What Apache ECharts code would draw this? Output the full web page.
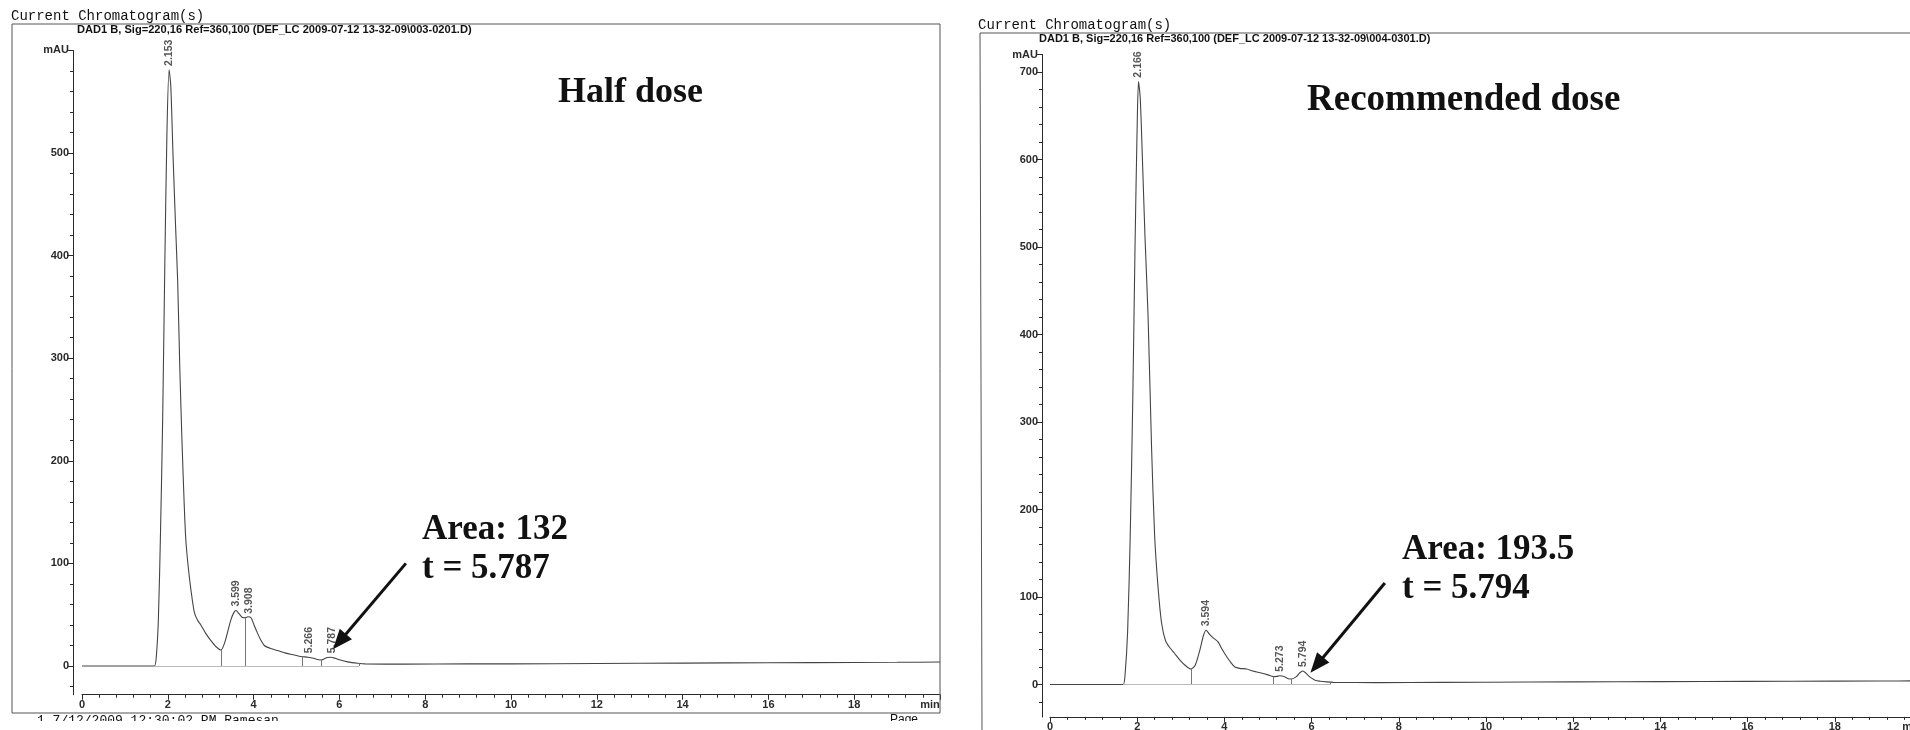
<!DOCTYPE html>
<html><head><meta charset="utf-8">
<script src="https://cdn.jsdelivr.net/npm/echarts@6/dist/echarts.min.js"></script>
<style>html,body{margin:0;padding:0;background:#fff}#c{width:1910px;height:730px}</style>
</head><body><div id="c"></div>
<script>
// ---------- DATA ----------
// Half dose trace (min, mAU)
const leftTime   = [0, 1.6, 1.69, 1.73, 1.78, 1.83, 1.88, 1.93, 1.98, 2.03, 2.07, 2.12, 2.18, 2.23, 2.28, 2.33, 2.38, 2.42, 2.48, 2.54, 2.62, 2.70, 2.77, 2.88, 3.00, 3.12, 3.24, 3.32, 3.40, 3.47, 3.54, 3.59, 3.66, 3.73, 3.80, 3.87, 3.94, 4.01, 4.09, 4.17, 4.25, 4.40, 4.56, 4.75, 4.95, 5.10, 5.27, 5.40, 5.50, 5.57, 5.65, 5.72, 5.80, 5.90, 6.00, 6.19, 6.43, 6.60, 7.5, 9, 11, 13, 15, 17, 19, 20];
const leftSignal = [0, 0, 0, 8, 45, 130, 240, 390, 520, 581, 565, 500, 430, 375, 290, 220, 160, 123, 95, 74, 52, 44, 40, 32, 25, 19, 15.6, 22, 34, 45, 52, 54, 51, 47.5, 47, 48, 47, 40, 32, 25, 20, 17, 15, 12.5, 10.7, 9.3, 8.5, 7.5, 6.3, 5.8, 7, 8.2, 8.5, 7.5, 6, 4, 2.6, 2, 1.8, 2, 2.2, 2.6, 3, 3.3, 3.6, 3.8];
// Recommended dose trace
const rightTime   = [0, 1.6, 1.68, 1.72, 1.78, 1.84, 1.90, 1.95, 2.00, 2.03, 2.07, 2.12, 2.18, 2.25, 2.33, 2.40, 2.48, 2.56, 2.65, 2.75, 2.85, 2.98, 3.10, 3.23, 3.33, 3.43, 3.52, 3.58, 3.65, 3.75, 3.85, 3.95, 4.05, 4.15, 4.24, 4.35, 4.51, 4.65, 4.82, 5.00, 5.12, 5.20, 5.27, 5.35, 5.45, 5.54, 5.65, 5.73, 5.80, 5.87, 5.95, 6.08, 6.20, 6.35, 6.50, 7.5, 9, 11, 13, 15, 17, 19, 20];
const rightSignal = [0, 0, 0, 10, 60, 170, 330, 500, 640, 689, 670, 600, 510, 420, 270, 170, 110, 70, 50, 42, 36, 28, 22, 17.7, 22, 38, 56, 62, 58, 53, 49, 40, 32, 25, 20, 18.5, 17.7, 15.5, 13.5, 11, 9, 9.3, 10, 9.5, 7, 6.3, 9, 13.5, 15.5, 13, 9, 5, 3.8, 3, 2.5, 2.2, 2.5, 2.8, 3.2, 3.5, 3.8, 4, 4.2];

// Peak apex positions and printed retention times
const leftPeakTime   = [2.03, 3.59, 3.90, 5.29, 5.82];
const leftPeakHeight = [581, 54, 47, 8.5, 8.5];
const leftPeakLabel  = ['2.153', '3.599', '3.908', '5.266', '5.787'];
const rightPeakTime   = [2.03, 3.58, 5.27, 5.80];
const rightPeakHeight = [689, 62, 10, 15.5];
const rightPeakLabel  = ['2.166', '3.594', '5.273', '5.794'];

// Integration drop lines [time, height]
const leftDrops  = [[3.24, 15.6], [3.80, 47], [5.13, 9.3], [5.57, 5.8], [6.46, 2.6]];
const rightDrops = [[3.23, 17.7], [5.12, 9], [5.54, 6.3], [6.42, 2.8]];
const leftBaseline  = [1.69, 6.46];
const rightBaseline = [1.68, 6.42];

// Axis ticks
const leftYTicks  = [0, 100, 200, 300, 400, 500, 600];
const rightYTicks = [0, 100, 200, 300, 400, 500, 600, 700, 720];

// Annotation texts
const leftTitle = 'Half dose';
const rightTitle = 'Recommended dose';
const leftArea = ['Area: 132', 't = 5.787'];
const rightArea = ['Area: 193.5', 't = 5.794'];
const leftHeader = 'DAD1 B, Sig=220,16 Ref=360,100 (DEF_LC 2009-07-12 13-32-09\\003-0201.D)';
const rightHeader = 'DAD1 B, Sig=220,16 Ref=360,100 (DEF_LC 2009-07-12 13-32-09\\004-0301.D)';

// ---------- CHART ----------
const chart = echarts.init(document.getElementById('c'));
const ink = '#2a2a2a';
const sans = '"Liberation Sans", Arial, sans-serif';
const serif = '"Liberation Serif", "Times New Roman", serif';
const mono = '"Liberation Mono", "Courier New", monospace';
const labelFont = {fontFamily: sans, fontWeight: 'bold', fontSize: 11, color: ink};

function minorList(min, max, majors) {
  const out = [];
  for (let v = Math.ceil(min / 20) * 20; v <= max; v += 20) if (majors.indexOf(v) < 0) out.push(v);
  return out;
}
function xAxis(gridIndex) {
  return {
    type: 'value', gridIndex, position: 'bottom', min: 0, max: 20, interval: 2,
    axisLine: {show: true, onZero: false, lineStyle: {color: ink, width: 1}},
    axisTick: {show: true, length: 5, lineStyle: {color: ink}},
    minorTick: {show: true, splitNumber: 5, length: 3, lineStyle: {color: ink}},
    splitLine: {show: false}, minorSplitLine: {show: false},
    axisLabel: Object.assign({}, labelFont, {margin: 5, showMaxLabel: true,
      formatter: v => v === 20 ? '{m|min}' : String(v),
      rich: {m: {fontFamily: sans, fontWeight: 'bold', fontSize: 11, color: ink, padding: [0, 20, 0, 0]}}})
  };
}
function yAxes(gridIndex, min, max, majors, offset) {
  const top = majors[majors.length - 1];
  return [{
    type: 'value', gridIndex, position: 'left', min, max, offset, z: 5,
    axisLine: {show: true, onZero: false, lineStyle: {color: ink, width: 1}},
    axisTick: {show: true, length: 6, customValues: majors, lineStyle: {color: ink}},
    axisLabel: Object.assign({}, labelFont, {margin: 4, customValues: majors,
      formatter: v => v === top ? 'mAU' : String(v)}),
    splitLine: {show: false}
  }, {
    type: 'value', gridIndex, position: 'left', min, max, offset, z: 5,
    axisLine: {show: true, onZero: false, lineStyle: {color: ink, width: 1}},
    axisTick: {show: true, length: 3, customValues: minorList(min, max, majors), lineStyle: {color: ink}},
    axisLabel: {show: false}, splitLine: {show: false}
  }];
}
function traceSeries(xi, yi, times, vals, drops, base, arrow) {
  const ml = drops.map(d => [{coord: [d[0], 0]}, {coord: [d[0], d[1]]}]);
  ml.push([{coord: [base[0], 0], lineStyle: {color: '#bbb', width: 1}}, {coord: [base[1], 0]}]);
  ml.push([{coord: arrow.from, symbol: 'none', lineStyle: {color: '#111', width: 3}},
           {coord: arrow.to, symbol: 'triangle', symbolSize: [16, 20]}]);
  return {
    type: 'line', xAxisIndex: xi, yAxisIndex: yi,
    data: times.map((t, i) => [t, vals[i]]),
    showSymbol: false, symbol: 'none', smooth: 0.25,
    lineStyle: {color: '#444', width: 1.1}, silent: true,
    markLine: {silent: true, symbol: 'none', label: {show: false}, animation: false,
      lineStyle: {color: '#777', width: 1, type: 'solid'}, data: ml}
  };
}
function peakLabels(xi, yi, times, heights, names) {
  return {
    type: 'scatter', xAxisIndex: xi, yAxisIndex: yi, symbolSize: 0, silent: true,
    data: times.map((t, i) => ({value: [t, heights[i]], name: names[i]})),
    label: {show: true, position: 'top', distance: 4, rotate: 90, align: 'left', verticalAlign: 'middle',
      formatter: p => p.name, fontSize: 10.5, fontWeight: 'bold', fontFamily: sans, color: ink}
  };
}

function txt(x, y, text, font, extra) {
  return Object.assign({type: 'text', x, y, z: 50, silent: true,
    style: {text, font, fill: '#111', align: 'left', verticalAlign: 'middle',
      textAlign: 'left', textVerticalAlign: 'middle'}}, extra || {});
}

const leftArrow  = {from: [7.55, 100], to: [6.0, 23.7]};
const rightArrow = {from: [7.68, 116], to: [6.12, 22.3]};

chart.setOption({
  animation: false,
  backgroundColor: '#fff',
  grid: [
    {left: 82, top: 50.4, width: 858, height: 644.3, outerBoundsMode: 'none', containLabel: false},
    {left: 1050, top: 54.5, width: 872, height: 662.4, outerBoundsMode: 'none', containLabel: false}
  ],
  xAxis: [xAxis(0), xAxis(1)],
  yAxis: [].concat(yAxes(0, -28, 600, leftYTicks, 9), yAxes(1, -37, 720, rightYTicks, 8)),
  series: [
    traceSeries(0, 0, leftTime, leftSignal, leftDrops, leftBaseline, leftArrow),
    peakLabels(0, 0, leftPeakTime, leftPeakHeight, leftPeakLabel),
    traceSeries(1, 2, rightTime, rightSignal, rightDrops, rightBaseline, rightArrow),
    peakLabels(1, 2, rightPeakTime, rightPeakHeight, rightPeakLabel)
  ],
  graphic: [
    {type: 'rect', silent: true, z: 1, shape: {x: 12, y: 24, width: 928, height: 689},
      style: {fill: 'none', stroke: '#555', lineWidth: 1}},
    {type: 'line', silent: true, z: 1, shape: {x1: 980, y1: 33, x2: 1910, y2: 33}, style: {stroke: '#555', lineWidth: 1}},
    {type: 'line', silent: true, z: 1, shape: {x1: 980, y1: 33, x2: 982, y2: 730}, style: {stroke: '#555', lineWidth: 1}},
    txt(11, 16, 'Current Chromatogram(s)', '14px ' + mono),
    txt(978, 25, 'Current Chromatogram(s)', '14px ' + mono),
    txt(77, 30, leftHeader, 'bold 11.1px ' + sans),
    txt(1039, 39, rightHeader, 'bold 11px ' + sans),
    txt(558, 93, leftTitle, 'bold 36px ' + serif),
    txt(1307, 100, rightTitle, 'bold 37px ' + serif),
    txt(422, 530, leftArea[0], 'bold 35px ' + serif),
    txt(422, 569, leftArea[1], 'bold 35px ' + serif),
    txt(1402, 549.5, rightArea[0], 'bold 35px ' + serif),
    txt(1402, 589, rightArea[1], 'bold 35px ' + serif),
    txt(37, 721, '1 7/12/2009 12:30:02 PM Ramesan', '13px ' + mono),
    txt(890, 720, 'Page', '12px ' + sans),
    {type: 'rect', silent: true, z: 100, shape: {x: 0, y: 721, width: 960, height: 9},
      style: {fill: '#fff', stroke: 'none'}}
  ]
});
</script></body></html>
